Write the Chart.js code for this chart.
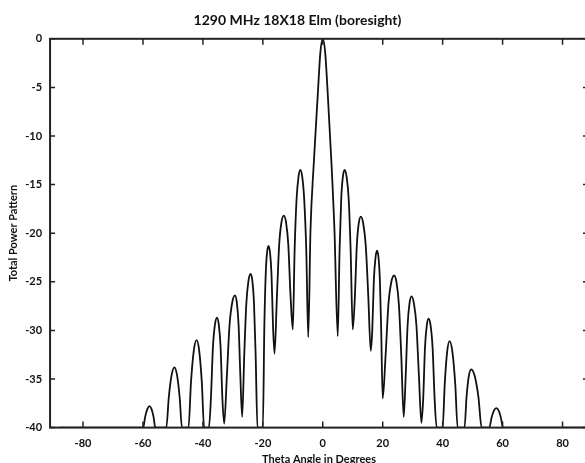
<!DOCTYPE html>
<html>
<head>
<meta charset="utf-8">
<script src="https://cdn.jsdelivr.net/npm/chart.js@4"></script>
<style>
  html, body { margin: 0; padding: 0; background: #fff; overflow: hidden; }
  #wrap { width: 600px; height: 470px; }
</style>
</head>
<body>
<div id="wrap"><canvas id="pattern" width="600" height="470"></canvas></div>
<script>
const chartTitle = '1290 MHz 18X18 Elm (boresight)';
const xTitle = 'Theta Angle in Degrees';
const yTitle = 'Total Power Pattern';
const xTicks = [-80, -60, -40, -20, 0, 20, 40, 60, 80];
const yTicks = [0, -5, -10, -15, -20, -25, -30, -35, -40];

// angle (deg), one row per lobe
const thetaDeg = [
  -88,
  -59.9, -59.27, -58.54, -57.8, -57.14, -56.47, -55.9,
  -52.2, -51.39, -50.45, -49.5, -48.63, -47.75, -47.0,
  -44.8, -43.99, -43.05, -42.1, -41.23, -40.35, -39.6,
  -38.0, -37.33, -36.65, -35.98, -35.3, -34.7, -34.1, -33.5,
  -32.9,
  -32.0, -31.1, -30.2, -29.3, -28.7, -28.1, -27.5,
  -26.9,
  -26.2, -25.5, -24.8, -24.1, -23.5, -22.95, -22.4, -21.8,
  -20.0, -19.5, -19.05, -18.6, -18.1, -17.6, -17.1, -16.6,
  -16.1,
  -15.3, -14.55, -13.8, -13.0, -12.25, -11.5, -10.75,
  -10.0,
  -9.4, -8.75, -8.1, -7.5, -6.85, -6.2, -5.5,
  -4.85,
  -4.1, -3.0, -1.7, -0.8, 0, 0.8, 1.7, 2.9, 3.9,
  5.0,
  5.6, 6.15, 6.7, 7.3, 7.95, 8.65, 9.3,
  10.0,
  10.7, 11.35, 12.0, 12.7, 13.5, 14.35, 15.2,
  16.0,
  16.5, 17.05, 17.6, 18.1, 18.6, 19.05, 19.5,
  20.0,
  20.95, 21.9, 22.85, 23.8, 24.6, 25.4, 26.2,
  27.0,
  27.65, 28.3, 28.95, 29.6, 30.4, 31.25, 32.1,
  32.9,
  33.5, 34.1, 34.7, 35.3, 35.98, 36.65, 37.33, 38.0,
  40.0, 40.7, 41.5, 42.3, 43.25, 44.2, 45.0,
  47.3, 47.96, 48.73, 49.5, 50.7, 51.95, 53.0,
  55.6, 56.3, 57.1, 57.9, 58.7, 59.45, 60.1,
  88
];
// total power (dB), same rows
const powerDb = [
  -40,
  -40, -38.9, -38.1, -37.8, -38.1, -38.9, -40,
  -40, -36.9, -34.6, -33.8, -34.6, -36.9, -40,
  -40, -35.4, -32.1, -31.0, -32.1, -35.4, -40,
  -40, -37.0, -31.7, -29.4, -28.7, -29.4, -31.7, -37.0,
  -39.6,
  -34.7, -29.4, -27.1, -26.4, -27.1, -29.4, -34.7,
  -38.9,
  -32.5, -27.2, -24.9, -24.2, -24.9, -27.2, -32.5, -40,
  -40, -29.6, -24.3, -22.0, -21.3, -22.0, -24.3, -29.6,
  -32.4,
  -26.5, -21.2, -18.9, -18.2, -18.9, -21.2, -26.5,
  -29.9,
  -21.8, -16.5, -14.2, -13.5, -14.2, -16.5, -21.8,
  -30.7,
  -19.7, -12.8, -5.9, -1.4, 0, -1.4, -5.9, -12.8, -19.7,
  -30.6,
  -21.8, -16.5, -14.2, -13.5, -14.2, -16.5, -21.8,
  -29.9,
  -26.6, -21.3, -19.0, -18.3, -19.0, -21.3, -26.6,
  -32.1,
  -30.1, -24.8, -22.5, -21.8, -22.5, -24.8, -30.1,
  -37.0,
  -32.65, -27.35, -25.05, -24.35, -25.05, -27.35, -32.65,
  -38.9,
  -34.8, -29.5, -27.2, -26.5, -27.2, -29.5, -34.8,
  -39.5,
  -37.1, -31.8, -29.5, -28.8, -29.5, -31.8, -37.1, -40,
  -40, -35.5, -32.2, -31.1, -32.2, -35.5, -40,
  -40, -36.9, -34.7, -34.0, -34.7, -36.9, -40,
  -40, -39.0, -38.25, -38.0, -38.25, -39.0, -40,
  -40
];

const points = thetaDeg.map((t, i) => ({ x: t, y: powerDb[i] }));
const labelFont = { family: 'Lato', weight: 'bold', size: 11 };
const noGrid = { display: false, drawTicks: false, tickLength: 0 };

// box round the plot with inward tick marks, like the original
const frame = {
  id: 'frame',
  afterDatasetsDraw(chart) {
    const { ctx, chartArea: a, scales: { x, y } } = chart;
    ctx.save();
    ctx.strokeStyle = '#222';
    ctx.lineWidth = 2;
    ctx.strokeRect(a.left, a.top, a.right - a.left, a.bottom - a.top);
    ctx.lineWidth = 1.5;
    ctx.beginPath();
    xTicks.forEach(v => {
      const px = x.getPixelForValue(v);
      ctx.moveTo(px, a.bottom); ctx.lineTo(px, a.bottom - 6);
      ctx.moveTo(px, a.top); ctx.lineTo(px, a.top + 6);
    });
    yTicks.forEach(v => {
      const py = y.getPixelForValue(v);
      ctx.moveTo(a.left, py); ctx.lineTo(a.left + 5, py);
      ctx.moveTo(a.right, py); ctx.lineTo(a.right - 5, py);
    });
    ctx.stroke();
    ctx.restore();
  }
};

new Chart(document.getElementById('pattern'), {
  type: 'line',
  data: {
    datasets: [{
      data: points,
      borderColor: '#111',
      borderWidth: 1.8,
      pointRadius: 0,
      fill: false,
      cubicInterpolationMode: 'monotone'
    }]
  },
  options: {
    responsive: false,
    animation: false,
    devicePixelRatio: 1,
    layout: { padding: { left: 7, right: 12, top: 0, bottom: 0 } },
    plugins: {
      legend: { display: false },
      tooltip: { enabled: false },
      title: {
        display: true,
        text: chartTitle,
        color: '#111',
        font: { family: 'Lato', weight: 'bold', size: 14 },
        padding: { top: 12, bottom: 10 }
      }
    },
    scales: {
      x: {
        type: 'linear',
        min: -91,
        max: 88.5,
        afterBuildTicks: s => { s.ticks = xTicks.map(v => ({ value: v })); },
        grid: noGrid,
        border: { display: false },
        ticks: { color: '#111', font: labelFont, padding: 9, maxRotation: 0 },
        title: { display: true, text: xTitle, color: '#111', font: labelFont, padding: { top: -6, bottom: 4 } }
      },
      y: {
        min: -40,
        max: 0,
        afterBuildTicks: s => { s.ticks = yTicks.map(v => ({ value: v })); },
        grid: noGrid,
        border: { display: false },
        ticks: { color: '#111', font: labelFont, padding: 8 },
        title: { display: true, text: yTitle, color: '#111', font: labelFont, padding: { top: 0, bottom: -3 } }
      }
    }
  },
  plugins: [frame]
});
</script>
</body>
</html>
